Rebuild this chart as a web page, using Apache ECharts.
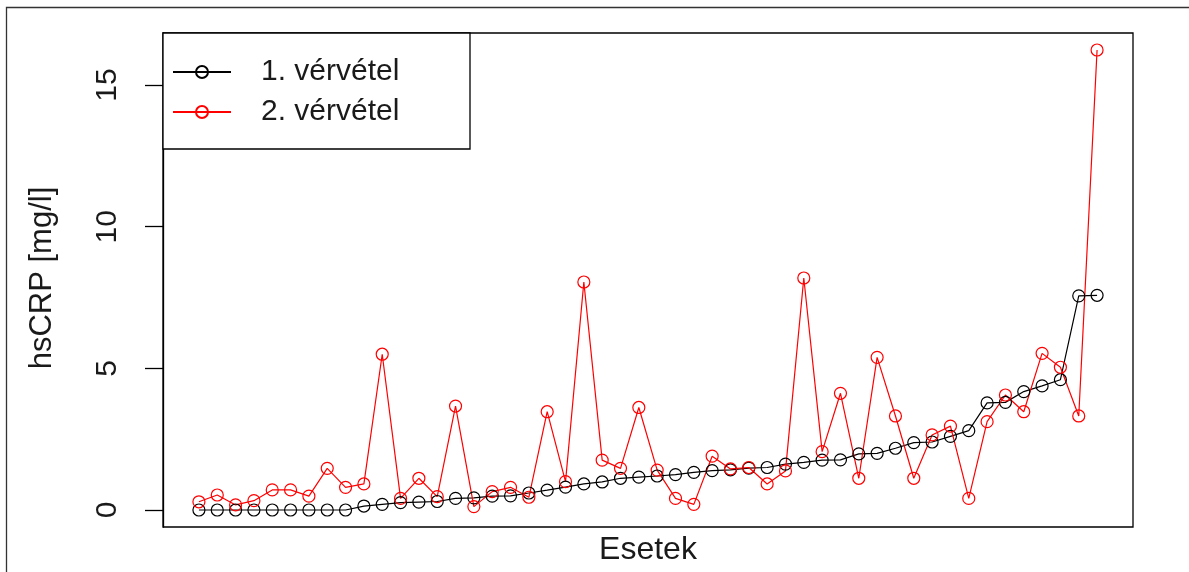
<!DOCTYPE html>
<html>
<head>
<meta charset="utf-8">
<script src="https://cdn.jsdelivr.net/npm/echarts@6/dist/echarts.min.js"></script>
<style>
  html, body { margin: 0; padding: 0; background: #fff; }
  #chart { width: 1189px; height: 572px; }
</style>
</head>
<body>
<div id="chart"></div>
<script>
// Case numbers (x positions)
const cases = [1, 2, 3, 4, 5, 6, 7, 8, 9, 10,
  11, 12, 13, 14, 15, 16, 17, 18, 19, 20,
  21, 22, 23, 24, 25, 26, 27, 28, 29, 30,
  31, 32, 33, 34, 35, 36, 37, 38, 39, 40,
  41, 42, 43, 44, 45, 46, 47, 48, 49, 50];

// hsCRP, first blood sample [mg/l]
const sample1 = [0, 0, 0, 0, 0, 0, 0, 0, 0, 0.14,
  0.2, 0.26, 0.28, 0.3, 0.41, 0.43, 0.49, 0.5, 0.6, 0.7,
  0.81, 0.92, 0.99, 1.12, 1.16, 1.2, 1.25, 1.33, 1.39, 1.42,
  1.48, 1.5, 1.62, 1.68, 1.76, 1.77, 1.98, 2.0, 2.18, 2.38,
  2.4, 2.6, 2.8, 3.78, 3.8, 4.18, 4.38, 4.6, 7.56, 7.58];

// hsCRP, second blood sample [mg/l]
const sample2 = [0.29, 0.53, 0.18, 0.33, 0.71, 0.71, 0.49, 1.47, 0.8, 0.92,
  5.5, 0.41, 1.12, 0.47, 3.67, 0.12, 0.65, 0.8, 0.45, 3.47,
  1.0, 8.05, 1.76, 1.47, 3.62, 1.41, 0.41, 0.2, 1.9, 1.45,
  1.5, 0.92, 1.38, 8.19, 2.06, 4.12, 1.12, 5.39, 3.32, 1.12,
  2.65, 2.96, 0.41, 3.12, 4.06, 3.47, 5.53, 5.04, 3.32, 16.24];

const yTicks = [0, 5, 10, 15];
const seriesNames = ['1. vérvétel', '2. vérvétel'];

const FONT = 'Liberation Sans, Arial, sans-serif';

const chart = echarts.init(document.getElementById('chart'), null, { renderer: 'canvas' });

function makeSeries(name, values, color) {
  return {
    name: name,
    type: 'line',
    data: cases.map((c, i) => [c, values[i]]),
    symbol: 'circle',
    symbolSize: 12,
    showAllSymbol: true,
    lineStyle: { color: color, width: 1.2 },
    itemStyle: { color: 'rgba(255,255,255,0)', borderColor: color, borderWidth: 1.2 },
    emphasis: { disabled: true }
  };
}

chart.setOption({
  animation: false,
  backgroundColor: '#fff',
  grid: {
    left: 163, top: 33, width: 970, height: 494,
    show: true, borderColor: '#000', borderWidth: 1.3, backgroundColor: 'transparent'
  },
  xAxis: {
    type: 'value', min: -0.96, max: 51.96,
    axisLine: { show: false }, axisTick: { show: false },
    axisLabel: { show: false }, splitLine: { show: false }
  },
  yAxis: {
    type: 'value', min: -0.6, max: 16.84,
    axisLine: { show: true, onZero: false, lineStyle: { color: '#000', width: 1.3 } },
    axisTick: { show: true, inside: false, length: 18, customValues: yTicks, lineStyle: { color: '#000', width: 1.3 } },
    axisLabel: {
      show: true, customValues: yTicks, rotate: 90, margin: 40,
      color: '#1a1a1a', fontSize: 30, fontFamily: FONT
    },
    splitLine: { show: false }
  },
  legend: {
    orient: 'vertical',
    left: 172, top: 52,
    padding: 0, itemGap: 0,
    itemWidth: 58, itemHeight: 15,
    data: seriesNames,
    textStyle: { color: '#1a1a1a', fontSize: 30, fontFamily: FONT, lineHeight: 40, padding: [0, 0, 0, 25] },
    selectedMode: false,
    z: 10
  },
  graphic: [
    {
      type: 'rect', z: 5,
      shape: { x: 163, y: 33, width: 307, height: 116 },
      style: { fill: '#fff', stroke: '#000', lineWidth: 1.3 }
    },
    {
      type: 'rect', z: 5,
      shape: { x: 6.5, y: 7.5, width: 1300, height: 700 },
      style: { fill: 'none', stroke: '#333', lineWidth: 1.3 }
    },
    {
      type: 'text', z: 5,
      x: 42, y: 278, rotation: Math.PI / 2,
      style: { text: 'hsCRP [mg/l]', fill: '#1a1a1a', font: '31px ' + FONT, align: 'center', verticalAlign: 'middle' }
    },
    {
      type: 'text', z: 5,
      x: 648, y: 550,
      style: { text: 'Esetek', fill: '#1a1a1a', font: '32px ' + FONT, align: 'center', verticalAlign: 'middle' }
    }
  ],
  series: [
    makeSeries(seriesNames[0], sample1, '#000000'),
    makeSeries(seriesNames[1], sample2, '#ff0000')
  ]
});
</script>
</body>
</html>
